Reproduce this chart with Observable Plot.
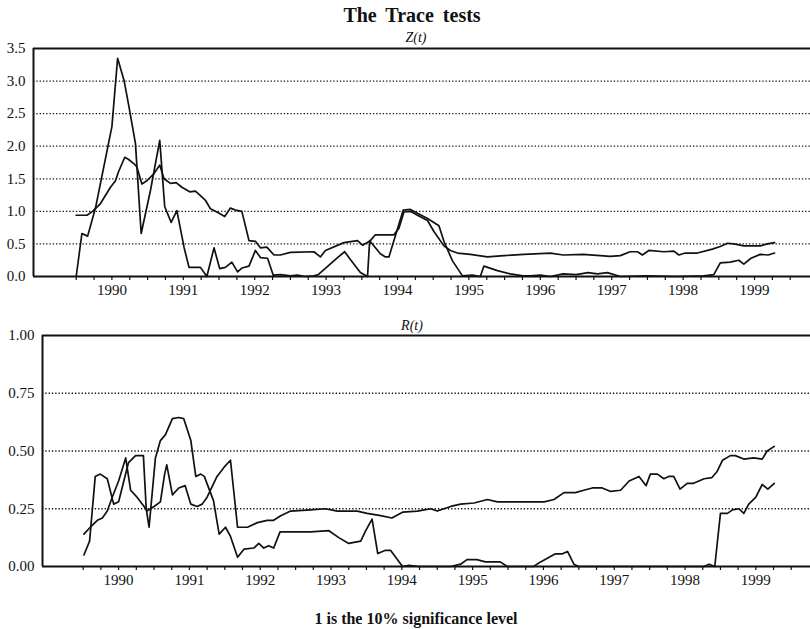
<!DOCTYPE html>
<html><head><meta charset="utf-8">
<script src="https://cdn.jsdelivr.net/npm/d3@7"></script>
<script src="https://cdn.jsdelivr.net/npm/@observablehq/plot@0.6"></script>
<style>
body{margin:0;background:#fff;}
#wrap{position:relative;width:810px;height:629px;font-family:"Liberation Serif","Times New Roman",serif;color:#111;overflow:hidden;}
.lbl{position:absolute;text-align:center;white-space:nowrap;}
.plot{position:absolute;left:0;}
</style></head><body>
<div id="wrap">
 <div class="plot" id="p1" style="top:0px"></div>
 <div class="plot" id="p2" style="top:300px"></div>
 <div class="lbl" style="left:212px;width:400px;top:5px;font-size:20px;line-height:20px;font-weight:bold;word-spacing:4px">The Trace tests</div>
 <div class="lbl" style="left:216px;width:400px;top:31px;font-size:14px;line-height:14px;font-style:italic">Z(t)</div>
 <div class="lbl" style="left:212px;width:400px;top:319px;font-size:14px;line-height:14px;font-style:italic">R(t)</div>
 <div class="lbl" style="left:216px;width:400px;top:611px;font-size:16px;line-height:16px;font-weight:bold">1 is the 10% significance level</div>
</div>
<script>
// ---- data: [decimal year, value] ----
const zA = [[1990.00,0.94],[1990.15,0.94],[1990.23,1.00],[1990.34,1.12],[1990.48,1.37],[1990.55,1.47],[1990.59,1.60],[1990.68,1.83],[1990.73,1.80],[1990.81,1.73],[1990.85,1.68],[1990.92,1.42],[1990.99,1.47],[1991.09,1.58],[1991.17,1.71],[1991.23,1.50],[1991.32,1.43],[1991.40,1.44],[1991.48,1.37],[1991.59,1.30],[1991.67,1.31],[1991.74,1.24],[1991.81,1.17],[1991.88,1.04],[1991.97,0.99],[1992.08,0.92],[1992.16,1.05],[1992.23,1.02],[1992.32,1.00],[1992.42,0.55],[1992.51,0.54],[1992.58,0.44],[1992.67,0.45],[1992.77,0.33],[1992.86,0.33],[1993.00,0.37],[1993.33,0.38],[1993.42,0.30],[1993.49,0.40],[1993.75,0.52],[1993.94,0.55],[1994.01,0.48],[1994.12,0.55],[1994.19,0.64],[1994.45,0.64],[1994.52,0.74],[1994.59,0.99],[1994.68,1.00],[1994.78,0.94],[1994.92,0.86],[1995.01,0.69],[1995.15,0.47],[1995.24,0.40],[1995.34,0.36],[1995.52,0.34],[1995.76,0.30],[1995.99,0.32],[1996.27,0.34],[1996.64,0.36],[1996.82,0.33],[1997.10,0.34],[1997.48,0.31],[1997.62,0.32],[1997.76,0.38],[1997.86,0.38],[1997.93,0.33],[1998.02,0.40],[1998.23,0.38],[1998.37,0.39],[1998.44,0.33],[1998.53,0.36],[1998.70,0.36],[1998.91,0.42],[1999.02,0.46],[1999.12,0.51],[1999.21,0.50],[1999.35,0.47],[1999.58,0.47],[1999.68,0.50],[1999.78,0.52]];
const zB = [[1990.00,0],[1990.08,0.66],[1990.16,0.62],[1990.27,1.05],[1990.50,2.30],[1990.58,3.35],[1990.67,3.01],[1990.74,2.60],[1990.83,2.04],[1990.91,0.66],[1991.04,1.32],[1991.17,2.09],[1991.24,1.07],[1991.33,0.83],[1991.41,1.01],[1991.51,0.45],[1991.58,0.14],[1991.74,0.14],[1991.83,0],[1991.93,0.44],[1992.01,0.12],[1992.09,0.14],[1992.18,0.22],[1992.26,0.07],[1992.32,0.13],[1992.42,0.16],[1992.51,0.40],[1992.58,0.29],[1992.68,0.28],[1992.76,0.02],[1992.86,0.03],[1993.00,0.01],[1993.10,0.02],[1993.20,0.00],[1993.33,0.01],[1993.39,0.03],[1993.66,0.29],[1993.76,0.38],[1993.84,0.26],[1993.98,0.06],[1994.08,0],[1994.11,0.55],[1994.26,0.35],[1994.33,0.30],[1994.38,0.30],[1994.58,1.02],[1994.68,1.03],[1994.92,0.89],[1995.08,0.78],[1995.15,0.54],[1995.27,0.24],[1995.41,0.01],[1995.55,0.02],[1995.66,0],[1995.71,0.16],[1995.90,0.09],[1996.08,0.04],[1996.26,0.01],[1996.36,0.01],[1996.50,0.02],[1996.64,0],[1996.82,0.04],[1997.00,0.03],[1997.17,0.06],[1997.30,0.04],[1997.44,0.06],[1997.62,0],[1998.00,0.01],[1998.40,0],[1998.79,0.01],[1998.93,0.03],[1999.02,0.21],[1999.16,0.22],[1999.28,0.25],[1999.35,0.19],[1999.45,0.28],[1999.58,0.34],[1999.69,0.33],[1999.78,0.36]];
const rA = [[1990.01,0.14],[1990.10,0.17],[1990.20,0.20],[1990.27,0.21],[1990.34,0.24],[1990.41,0.30],[1990.50,0.37],[1990.60,0.47],[1990.67,0.33],[1990.76,0.30],[1990.86,0.26],[1990.90,0.24],[1991.00,0.26],[1991.09,0.28],[1991.15,0.40],[1991.18,0.44],[1991.26,0.31],[1991.35,0.34],[1991.44,0.35],[1991.52,0.27],[1991.61,0.26],[1991.68,0.27],[1991.75,0.30],[1991.89,0.39],[1991.99,0.43],[1992.08,0.46],[1992.18,0.17],[1992.32,0.17],[1992.46,0.19],[1992.60,0.20],[1992.69,0.20],[1992.79,0.22],[1992.93,0.24],[1993.21,0.245],[1993.42,0.25],[1993.59,0.24],[1993.87,0.24],[1994.01,0.23],[1994.20,0.22],[1994.36,0.21],[1994.51,0.235],[1994.72,0.24],[1994.91,0.25],[1995.00,0.24],[1995.19,0.26],[1995.33,0.27],[1995.52,0.275],[1995.71,0.29],[1995.85,0.28],[1996.03,0.28],[1996.22,0.28],[1996.41,0.28],[1996.51,0.28],[1996.65,0.29],[1996.79,0.32],[1996.86,0.32],[1996.95,0.32],[1997.07,0.33],[1997.19,0.34],[1997.33,0.34],[1997.45,0.325],[1997.59,0.33],[1997.71,0.37],[1997.85,0.39],[1997.95,0.35],[1998.01,0.40],[1998.11,0.40],[1998.20,0.38],[1998.27,0.39],[1998.34,0.39],[1998.43,0.335],[1998.53,0.36],[1998.62,0.36],[1998.77,0.38],[1998.88,0.385],[1998.95,0.41],[1999.03,0.46],[1999.14,0.48],[1999.21,0.48],[1999.33,0.465],[1999.47,0.47],[1999.59,0.465],[1999.66,0.50],[1999.76,0.52]];
const rB = [[1990.01,0.05],[1990.09,0.11],[1990.17,0.39],[1990.24,0.40],[1990.34,0.38],[1990.43,0.27],[1990.50,0.28],[1990.64,0.45],[1990.74,0.48],[1990.85,0.48],[1990.89,0.25],[1990.93,0.17],[1991.02,0.47],[1991.09,0.545],[1991.16,0.57],[1991.26,0.64],[1991.35,0.645],[1991.42,0.64],[1991.52,0.545],[1991.59,0.39],[1991.66,0.40],[1991.71,0.39],[1991.84,0.285],[1991.92,0.14],[1992.01,0.17],[1992.08,0.13],[1992.18,0.04],[1992.27,0.075],[1992.41,0.08],[1992.48,0.10],[1992.55,0.08],[1992.62,0.09],[1992.69,0.08],[1992.78,0.15],[1992.93,0.15],[1993.21,0.15],[1993.47,0.155],[1993.61,0.125],[1993.75,0.10],[1993.92,0.11],[1993.99,0.155],[1994.08,0.205],[1994.16,0.056],[1994.27,0.07],[1994.34,0.07],[1994.51,0],[1994.60,0.005],[1994.74,0],[1995.19,0],[1995.33,0.01],[1995.42,0.03],[1995.56,0.03],[1995.68,0.02],[1995.89,0.02],[1995.99,0],[1996.36,0],[1996.46,0.02],[1996.58,0.04],[1996.67,0.055],[1996.77,0.055],[1996.84,0.065],[1996.93,0.01],[1997.00,0],[1998.77,0],[1998.84,0.01],[1998.92,0],[1999.00,0.23],[1999.10,0.23],[1999.17,0.245],[1999.26,0.25],[1999.33,0.23],[1999.40,0.27],[1999.50,0.30],[1999.59,0.355],[1999.67,0.335],[1999.76,0.36]];

const years = [1990,1991,1992,1993,1994,1995,1996,1997,1998,1999];
const zTicks = [0,0.5,1,1.5,2,2.5,3,3.5];
const zGrid = [0.5,1,1.5,2,2.5,3];
const rTicks = [0,0.25,0.5,0.75,1];
const rGrid = [0.25,0.5,0.75];

const FONT = '"Liberation Serif","Times New Roman",serif';
const quarterTicks = d3.range(0, 41).map(i => 1990 + i / 4);
const yearMid = years.map(y => y + 0.5);

function panel({series, xDomain, yDomain, yTicks, grid, marginLeft, marginTop, marginBottom, height, fmt}) {
  return Plot.plot({
    width: 810, height, marginLeft, marginRight: 0, marginTop, marginBottom,
    style: {fontFamily: FONT, fontSize: "15px", color: "#111", background: "white", overflow: "visible"},
    x: {domain: xDomain},
    y: {domain: yDomain},
    marks: [
      Plot.gridY(grid, {stroke: "#111", strokeOpacity: 1, strokeWidth: 1.3, strokeDasharray: "1.3,2"}),
      Plot.axisY({ticks: yTicks, tickSize: 0, tickPadding: 8, tickFormat: fmt, fontSize: 15, label: null}),
      Plot.axisX({ticks: quarterTicks, tickSize: 4, tickFormat: () => "", label: null, strokeWidth: 1.2}),
      Plot.axisX({ticks: yearMid, tickSize: 0, tickPadding: 8, tickFormat: d => String(Math.floor(d)), fontSize: 15, label: null}),
      ...series.map(s => Plot.line(s, {x: d => d[0], y: d => d[1], stroke: "#111", strokeWidth: 1.7})),
      Plot.ruleY([yDomain[0]], {stroke: "#111", strokeWidth: 2}),
      Plot.ruleY([yDomain[1]], {stroke: "#111", strokeWidth: 2}),
      Plot.ruleX([xDomain[0]], {stroke: "#111", strokeWidth: 2})
    ]
  });
}

document.getElementById("p1").append(panel({
  series: [zA, zB], xDomain: [1989.402, 2000.284], yDomain: [0, 3.5],
  yTicks: zTicks, grid: zGrid, marginLeft: 33, marginTop: 48, marginBottom: 24, height: 300,
  fmt: d3.format(".1f")
}));
document.getElementById("p2").append(panel({
  series: [rA, rB], xDomain: [1989.425, 2000.272], yDomain: [0, 1],
  yTicks: rTicks, grid: rGrid, marginLeft: 42, marginTop: 35, marginBottom: 24, height: 290,
  fmt: d3.format(".2f")
}));
</script>
</body></html>
